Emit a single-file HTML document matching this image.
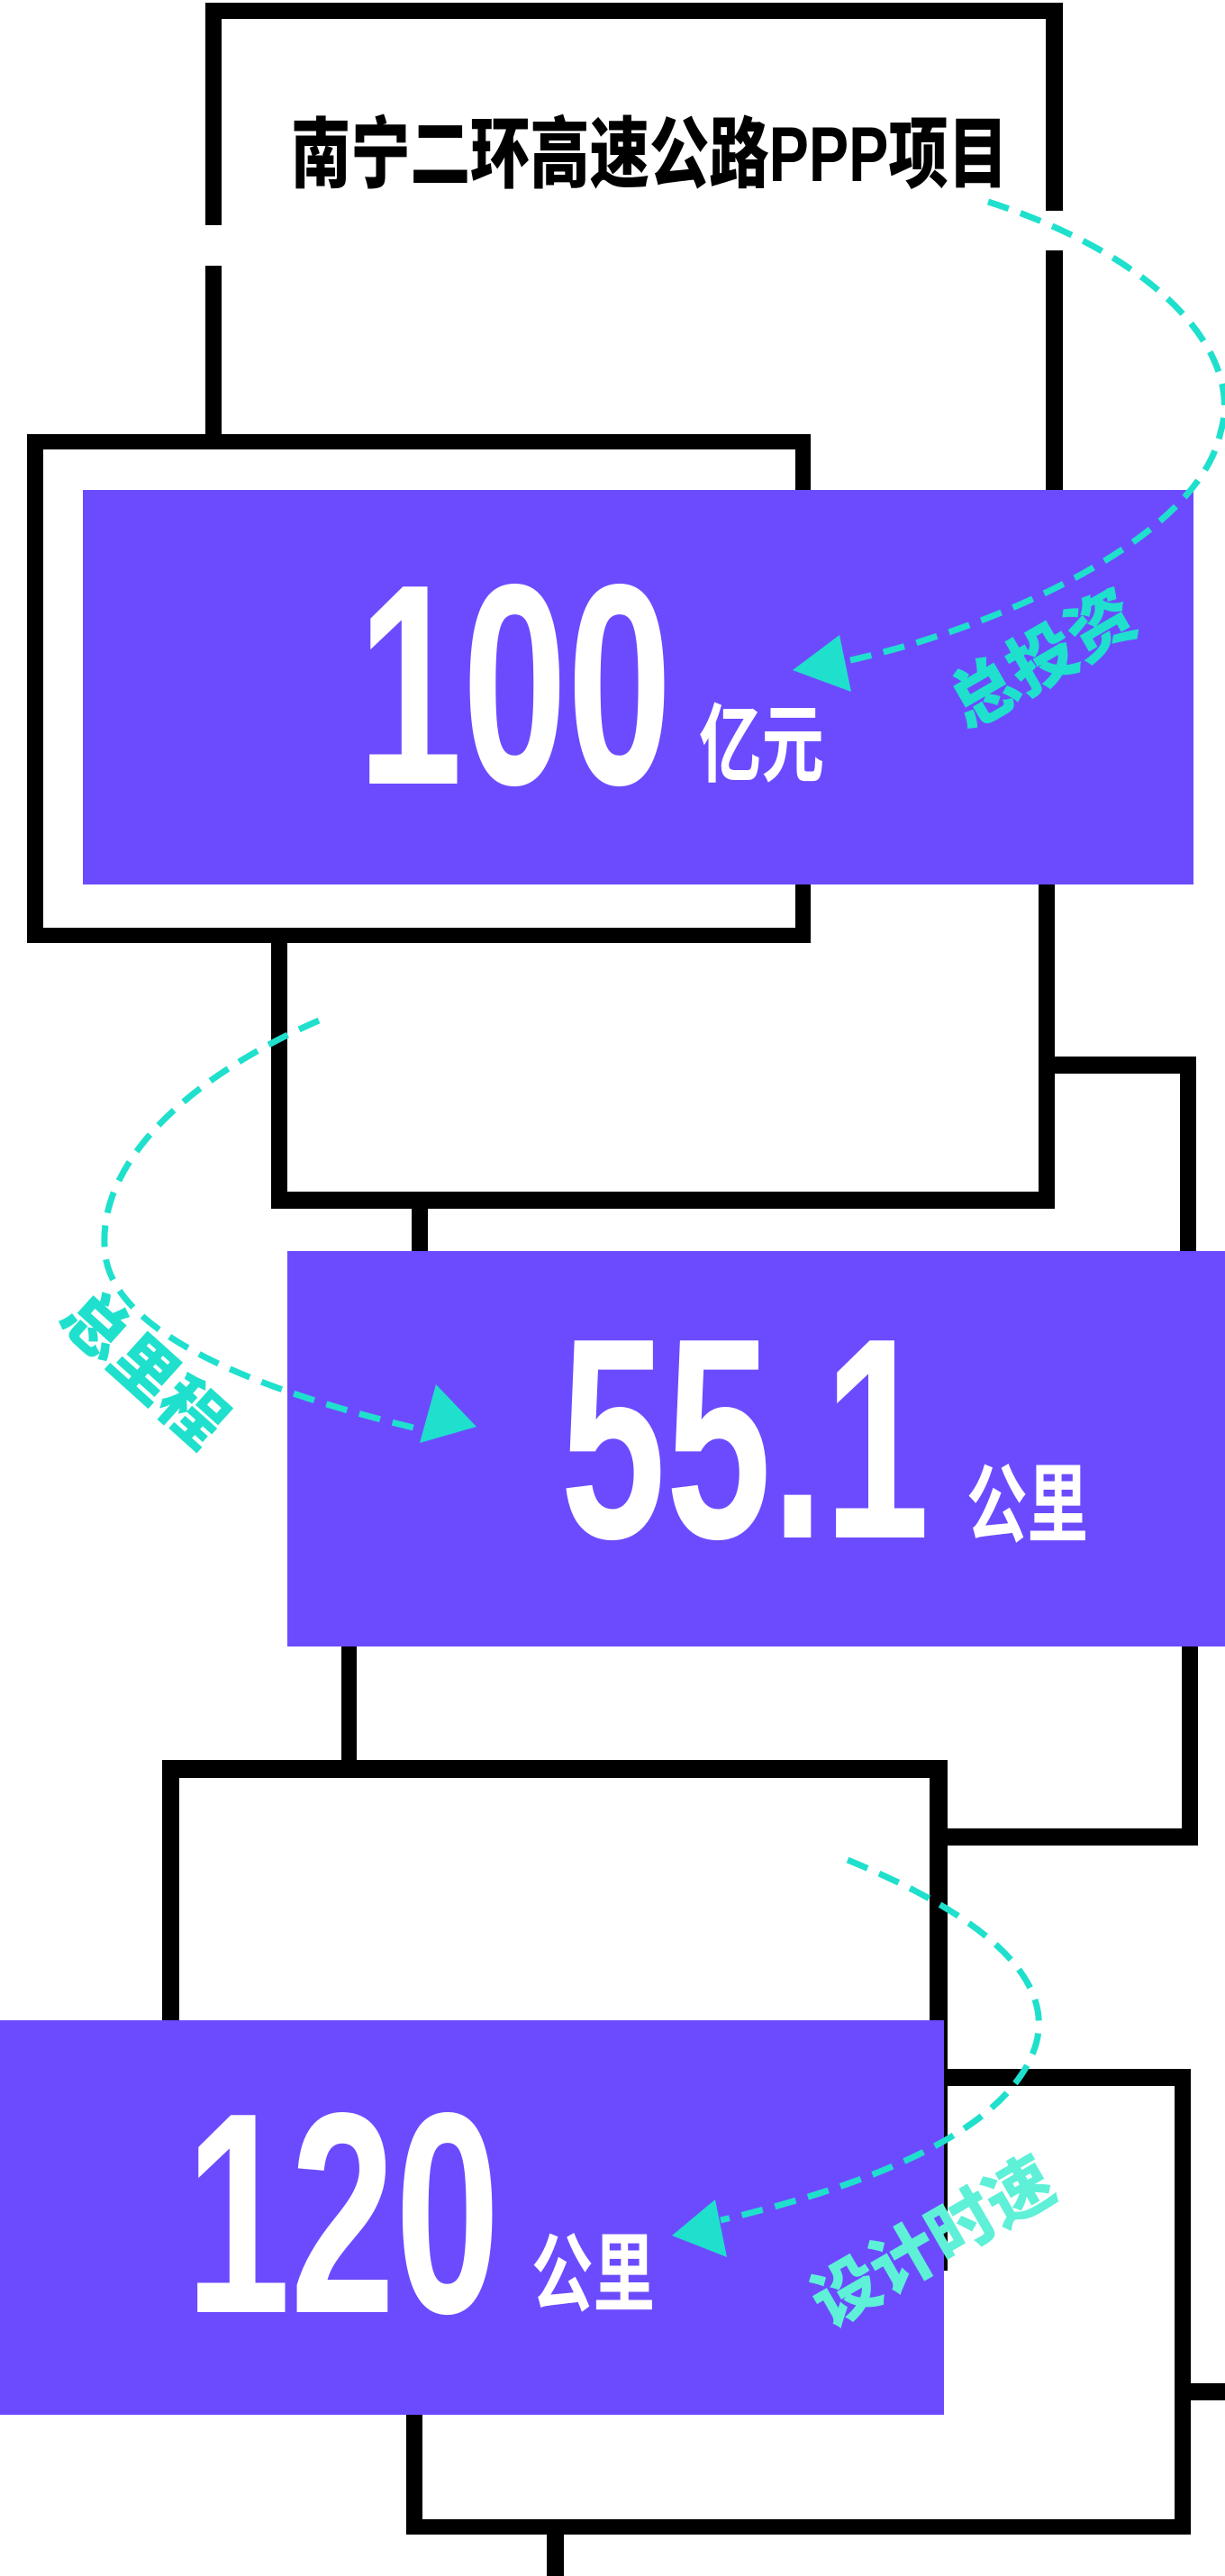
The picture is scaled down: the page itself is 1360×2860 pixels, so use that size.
<!DOCTYPE html>
<html><head><meta charset="utf-8"><style>html,body{margin:0;padding:0;background:#fff}svg{display:block}</style></head>
<body>
<svg width="1360" height="2860" viewBox="0 0 1360 2860" xmlns="http://www.w3.org/2000/svg">
<g fill="#000">
<rect x="228" y="3" width="952" height="18"/>
<rect x="228" y="3" width="18" height="247"/>
<rect x="228" y="295" width="18" height="190"/>
<rect x="1161" y="3" width="19" height="231"/>
<rect x="1161" y="278" width="19" height="270"/>
<rect x="30" y="482" width="870" height="17"/>
<rect x="30" y="1030" width="870" height="17"/>
<rect x="30" y="482" width="18" height="565"/>
<rect x="883" y="482" width="17" height="565"/>
<rect x="301" y="1040" width="18" height="302"/>
<rect x="301" y="1323" width="870" height="19"/>
<rect x="1153" y="975" width="18" height="367"/>
<rect x="1162" y="1173" width="165" height="19"/>
<rect x="1310" y="1173" width="18" height="230"/>
<rect x="1312" y="1820" width="18" height="229"/>
<rect x="1052" y="2030" width="278" height="19"/>
<rect x="457" y="1340" width="18" height="55"/>
<rect x="379" y="1820" width="17" height="140"/>
<rect x="180" y="1954" width="872" height="20"/>
<rect x="180" y="1954" width="19" height="295"/>
<rect x="1032" y="1954" width="20" height="567"/>
<rect x="451" y="2297" width="871" height="19"/>
<rect x="451" y="2797" width="871" height="17"/>
<rect x="451" y="2297" width="18" height="517"/>
<rect x="1304" y="2297" width="18" height="517"/>
<rect x="1322" y="2646" width="38" height="19"/>
<rect x="607" y="2810" width="19" height="50"/>
</g>
<g fill="#6c4bff">
<rect x="92" y="544" width="1233" height="438"/>
<rect x="319" y="1389" width="1041" height="439"/>
<rect x="0" y="2243" width="1048" height="438"/>
</g>
<text x="323" y="201" font-size="86" font-weight="900" font-family="'Liberation Sans','Noto Sans CJK SC',sans-serif" textLength="796" lengthAdjust="spacingAndGlyphs" fill="#000">南宁二环高速公路PPP项目</text>
<g fill="#fff" font-family="'Liberation Sans','Noto Sans CJK SC',sans-serif" font-weight="bold">
<text x="397" y="870" font-size="318" textLength="349" lengthAdjust="spacingAndGlyphs">100</text>
<text x="776" y="860" font-size="95" textLength="139" lengthAdjust="spacingAndGlyphs">亿元</text>
<text x="622" y="1707" font-size="318" textLength="410" lengthAdjust="spacingAndGlyphs">55.1</text>
<text x="1073" y="1704" font-size="95" textLength="135" lengthAdjust="spacingAndGlyphs">公里</text>
<text x="206" y="2567" font-size="318" textLength="349" lengthAdjust="spacingAndGlyphs">120</text>
<text x="590" y="2558" font-size="95" textLength="137" lengthAdjust="spacingAndGlyphs">公里</text>
</g>
<g fill="none" stroke="#1fe0cc" stroke-width="7" stroke-dasharray="24 14">
<path d="M1097,224 C1300,290 1380,400 1355,480 C1330,600 1100,700 935,735"/>
<path d="M354,1133 C200,1200 100,1300 118,1400 C140,1500 350,1560 480,1590"/>
<path d="M941,2065 C1100,2130 1170,2200 1150,2270 C1120,2370 950,2430 800,2465"/>
</g>
<g fill="#1fe0cc">
<polygon points="880,744 932,705 945,768"/>
<polygon points="529,1584 484,1537 466,1602"/>
<polygon points="746,2482 794,2442 807,2506"/>
</g>
<g fill="#1fe0cc" font-family="'Liberation Sans','Noto Sans CJK SC',sans-serif" font-weight="900" text-anchor="middle">
<text x="1158" y="758" font-size="75" transform="rotate(-30 1158 733)">总投资</text>
<text x="160" y="1545" font-size="72" transform="rotate(42 160 1520)">总里程</text>
<text x="1036" y="2515" font-size="74" fill="#5ff0d8" transform="rotate(-30 1036 2490)">设计时速</text>
</g>
</svg>
</body></html>
